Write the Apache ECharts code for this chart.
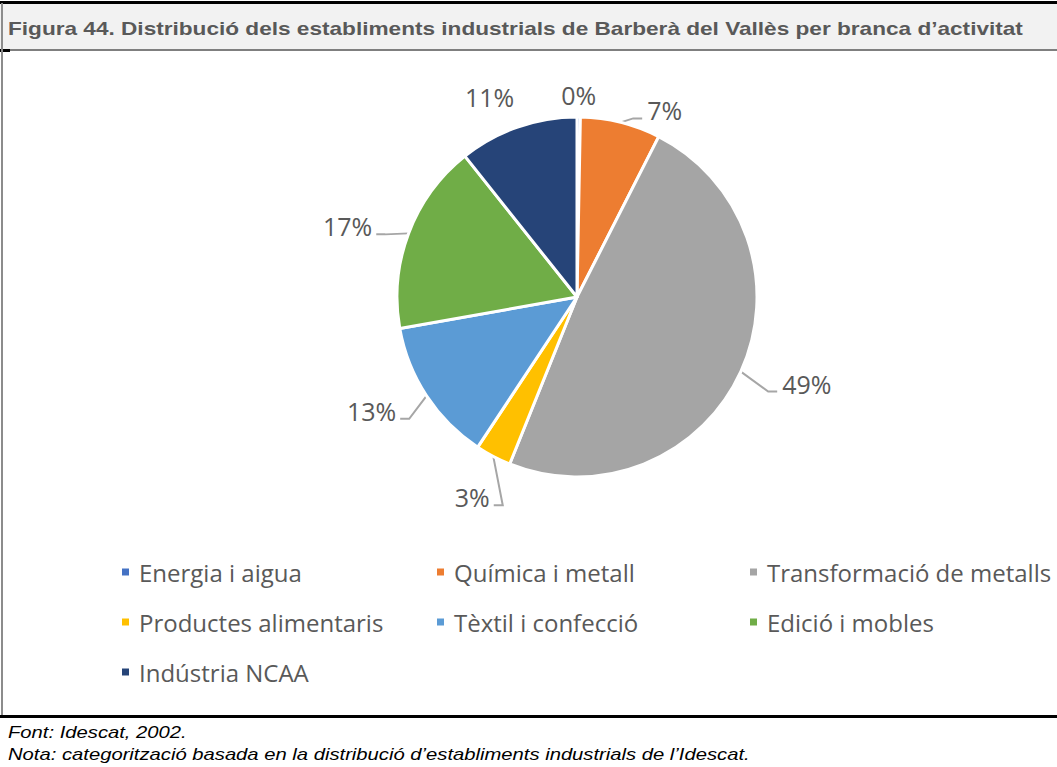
<!DOCTYPE html>
<html><head><meta charset="utf-8">
<script src="https://cdn.jsdelivr.net/npm/echarts@6/dist/echarts.min.js"></script>
<style>html,body{margin:0;padding:0;background:#fff}#c{width:1057px;height:767px}</style>
</head><body><div id="c"></div>
<script>
const titleText = "Figura 44. Distribució dels establiments industrials de Barberà del Vallès per branca d’activitat";
const sourceText = "Font: Idescat, 2002.";
const noteText = "Nota: categorització basada en la distribució d’establiments industrials de l’Idescat.";
const categories = ["Energia i aigua","Química i metall","Transformació de metalls","Productes alimentaris","Tèxtil i confecció","Edició i mobles","Indústria NCAA"];
const shares = [0.3, 7.2, 48.6, 3.2, 12.9, 17.1, 10.7];
const colors = ["#4472C4","#ED7D31","#A5A5A5","#FFC000","#5B9BD5","#70AD47","#264478"];
const legendCols = [[0,3,6],[1,4],[2,5]];
const noLineItems = [0, 6];

// label-centre offsets from each slice's outer anchor point (Excel-like label placement)
const labelOffsets = [[0,-22],[44,-12],[66,12],[-21,41],[-55,15],[-61,-7],[-28,-30]];

const chart = echarts.init(document.getElementById('c'), null, {renderer:'svg'});
const legendLeft = [115, 430, 743];
const legends = legendCols.map((col, i) => ({
  orient: 'vertical', left: legendLeft[i], top: 554,
  itemWidth: 9, itemHeight: 9, itemGap: 24, icon: 'rect',
  data: col.map(k => categories[k]),
  textStyle: {fontFamily: 'Open Sans', fontSize: 24, lineHeight: 26, color: '#595959', padding:[0,0,0,4]},
  selectedMode: false
}));
chart.setOption({
  animation: false,
  color: colors,
  legend: legends,
  graphic: [
    {type:'rect', shape:{x:0,y:3,width:1057,height:46}, style:{fill:'#f2f2f2'}},
    {type:'rect', shape:{x:0,y:1,width:1057,height:3}, style:{fill:'#000'}},
    {type:'rect', shape:{x:0,y:49,width:1057,height:2}, style:{fill:'#7f7f7f'}},
    {type:'rect', shape:{x:0,y:49,width:10,height:3}, style:{fill:'#000'}},
    {type:'rect', shape:{x:1,y:3,width:2,height:713}, style:{fill:'#8c8c8c'}},
    {type:'rect', shape:{x:0,y:715,width:1057,height:3}, style:{fill:'#000'}},
    {type:'text', x:8, y:19, scaleX:1.19, style:{text:titleText, fontFamily:'Liberation Sans, Arial', fontWeight:'bold', fontSize:19, fill:'#595959'}},
    {type:'text', x:8, y:724, scaleX:1.19, style:{text:sourceText, fontFamily:'Liberation Sans, Arial', fontStyle:'italic', fontSize:17, fill:'#000'}},
    {type:'text', x:8, y:746, scaleX:1.19, style:{text:noteText, fontFamily:'Liberation Sans, Arial', fontStyle:'italic', fontSize:17, fill:'#000'}}
  ],
  series: [{
    type: 'pie', center: [577, 297], radius: 180, startAngle: 90, clockwise: true,
    avoidLabelOverlap: false,
    data: categories.map((c, i) => ({name: c, value: shares[i],
      labelLine: noLineItems.includes(i) ? {show: false} : undefined})),
    itemStyle: {borderColor: '#fff', borderWidth: 3},
    label: {show: true, position: 'outside', formatter: p => Math.round(p.value) + '%',
      fontFamily: 'Open Sans', fontSize: 25, color: '#595959', distance: 4},
    labelLine: {show: true, length: 16, length2: 12, lineStyle: {color: '#a6a6a6', width: 2}},
    labelLayout: function (params) {
      const a = params.labelLinePoints ? params.labelLinePoints[0] : null;
      if (!a) return {};
      const o = labelOffsets[params.dataIndex];
      const cx = a[0] + o[0], cy = a[1] + o[1];
      const hw = params.labelRect.width / 2;
      const right = o[0] > 0;
      const end = [right ? cx - hw - 5 : cx + hw + 4, cy + 8];
      const elbow = [right ? end[0] - 9 : end[0] + 9, end[1]];
      return {x: cx, y: cy, align: 'center', verticalAlign: 'middle',
        labelLinePoints: [a, elbow, end]};
    },
    emphasis: {disabled: true}
  }]
});
</script></body></html>
